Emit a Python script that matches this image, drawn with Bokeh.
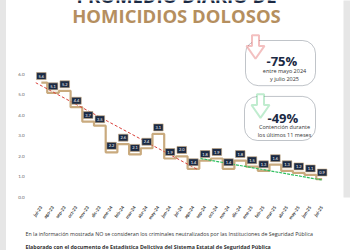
import numpy as np
from bokeh.plotting import figure
from bokeh.layouts import row
from bokeh.models import (Range1d, FixedTicker, Label, BoxAnnotation, PolyAnnotation,
                          ColumnDataSource, NumeralTickFormatter, Title, Spacer)
from bokeh.core.properties import value
from bokeh.embed import file_html
from bokeh.resources import INLINE

# ---- data ----
months = ["jul-23", "ago-23", "sep-23", "oct-23", "nov-23", "dic-23", "ene-24", "feb-24",
          "mar-24", "abr-24", "may-24", "jun-24", "jul-24", "ago-24", "sep-24", "oct-24",
          "nov-24", "dic-24", "ene-25", "feb-25", "mar-25", "abr-25", "may-25", "jun-25", "jul-25"]
daily_avg = [5.6, 5.1, 5.2, 4.4, 3.7, 3.5, 2.2, 2.6, 2.1, 2.4, 3.1, 1.9, 2.0, 1.4, 1.8,
             1.9, 1.4, 1.8, 1.5, 1.3, 1.6, 1.3, 1.2, 1.1, 0.9]
red_trend_x = [-0.5, 13.4]
red_trend_y = [5.6, 1.35]
green_trend_x = [13.6, 24.0]
green_trend_y = [1.9, 0.85]
y_ticks = [0, 1, 2, 3, 4, 5, 6]

W, H = 350, 250
OX = 6                      # left card shadow strip width (page px)
BL, BB = 29, 50             # figure borders
FRAME_LEFT = OX + BL        # page x of frame left
FRAME_BOTTOM = H - BB       # page y of frame bottom
PX_PER_IDX = 11.7
PX_PER_UNIT = 20.83
NAVY = "#1b2a44"
GOLD = "#b58f5f"
TAN = "#c9aa7e"

idx = list(range(len(months)))
src = ColumnDataSource(dict(x=idx, y=daily_avg, lbl=[f"{v:.1f}" for v in daily_avg]))

x_end = -0.5 + (W - FRAME_LEFT) / PX_PER_IDX
y_end = FRAME_BOTTOM / PX_PER_UNIT

p = figure(width=W - OX, height=H, output_backend="svg", toolbar_location=None,
           x_range=Range1d(-0.5, x_end), y_range=Range1d(0, y_end),
           min_border_left=BL, min_border_right=0, min_border_top=0, min_border_bottom=BB)
p.background_fill_color = "white"
p.border_fill_color = "white"
p.outline_line_color = None
p.grid.grid_line_color = None

p.yaxis.ticker = FixedTicker(ticks=y_ticks)
p.yaxis.formatter = NumeralTickFormatter(format="0.0")
p.yaxis.axis_line_color = None
p.yaxis.major_tick_line_color = None
p.yaxis.minor_tick_line_color = None
p.yaxis.major_label_text_font_size = "4.5px"
p.yaxis.major_label_text_color = "#666666"
p.yaxis.major_label_standoff = 5
p.yaxis.major_label_text_font = "Lato"

p.xaxis.ticker = FixedTicker(ticks=idx)
p.xaxis.major_label_overrides = {i: m for i, m in enumerate(months)}
p.xaxis.axis_line_color = None
p.xaxis.major_tick_line_color = None
p.xaxis.minor_tick_line_color = None
p.xaxis.major_label_orientation = 0.95
p.xaxis.major_label_text_font_size = "4.5px"
p.xaxis.major_label_text_color = "#333333"
p.xaxis.major_label_text_font_style = "bold"
p.xaxis.major_label_standoff = 3
p.xaxis.major_label_text_font = "Lato"

p.step("x", "y", source=src, mode="center", line_color=TAN, line_width=2.2)
p.line(red_trend_x, red_trend_y, line_color="#d9403a", line_width=1, line_dash="3 2")
p.line(green_trend_x, green_trend_y, line_color="#2fbf5f", line_width=1.2, line_dash="3 1")
p.text("x", "y", text="lbl", source=src, text_align="center", text_baseline="bottom",
       y_offset=-3, text_font_size="4px", text_color="white", text_font=value("Lato"),
       background_fill_color=NAVY, border_line_color=TAN, border_line_width=0.6, padding=2)

# "screen" units: convert page pixels (with an empirical correction for placement)
def sx(x):
    return x - FRAME_LEFT

def sy(y):
    return FRAME_BOTTOM - (y - 10) / 0.93

def add_label(x, y, text, size, color, style="normal", align="left", font="Open Sans"):
    p.add_layout(Label(x=sx(x), y=sy(y), x_units="screen", y_units="screen", text=text,
                       text_font_size=size, text_color=color, text_font_style=style,
                       text_align=align, text_baseline="alphabetic", text_font=font))

def add_box(l, r, t, b, fill, line=None, radius=0):
    p.add_layout(BoxAnnotation(left=sx(l), right=sx(r), top=sy(t), bottom=sy(b),
                               left_units="screen", right_units="screen",
                               top_units="screen", bottom_units="screen",
                               fill_color=fill, fill_alpha=1, line_color=line,
                               line_width=1, border_radius=radius, level="underlay"))

# right card shadow
add_box(343, W, 0, 215, "#e6e6e6")

# titles
add_label(176, 8, "PROMEDIO DIARIO DE", "18.5px", NAVY, "bold", "center")
add_label(176, 27, "HOMICIDIOS DOLOSOS", "18.5px", GOLD, "bold", "center")

# info boxes
add_box(245, 315, 50, 92, "white", "#2f3b4d", 13)
add_box(244, 315, 102, 143, "white", "#2f3b4d", 13)

def arrow(cx, top, color):
    xs = [cx - 3.5, cx + 3.5, cx + 3.5, cx + 9, cx, cx - 9, cx - 3.5]
    ys = [top, top, top + 10, top + 10, top + 22, top + 10, top + 10]
    p.add_layout(PolyAnnotation(xs=[sx(v) for v in xs], ys=[sy(v) for v in ys],
                                xs_units="screen", ys_units="screen",
                                fill_color="white", fill_alpha=1,
                                line_color=color, line_width=2))

arrow(255, 45, "#d6302e")
arrow(260, 100, "#2fbf5f")

add_label(266, 69, "-75%", "13px", NAVY, "bold")
add_label(284, 78, "entre mayo 2024", "5.5px", "#333333", "normal", "center")
add_label(284, 86, "y julio 2025", "5.5px", "#333333", "normal", "center")
add_label(267, 122, "-49%", "13px", NAVY, "bold")
add_label(284, 130, "Contención durante", "5.5px", "#333333", "normal", "center")
add_label(284, 138, "los últimos 11 meses", "5.5px", "#333333", "normal", "center")

# footnote as titles below the x axis
p.add_layout(Title(text="En la información mostrada NO se consideran los criminales neutralizados por las Instituciones de Seguridad Pública",
                   align="left", offset=-10, standoff=6, text_font_size="5.3px",
                   text_font_style="normal", text_color="#333333", text_font="Open Sans"), "below")
p.add_layout(Title(text="Elaborado con el documento de Estadística Delictiva del Sistema Estatal de Seguridad Pública",
                   align="left", offset=-10, standoff=0, text_font_size="5.3px",
                   text_font_style="bold", text_color="#333333", text_font="Open Sans"), "below")

shadow = Spacer(width=OX, height=H, styles={"background-color": "#e6e6e6"})
layout = row(shadow, p, spacing=0)

open("out.html", "w").write(file_html(layout, INLINE))
